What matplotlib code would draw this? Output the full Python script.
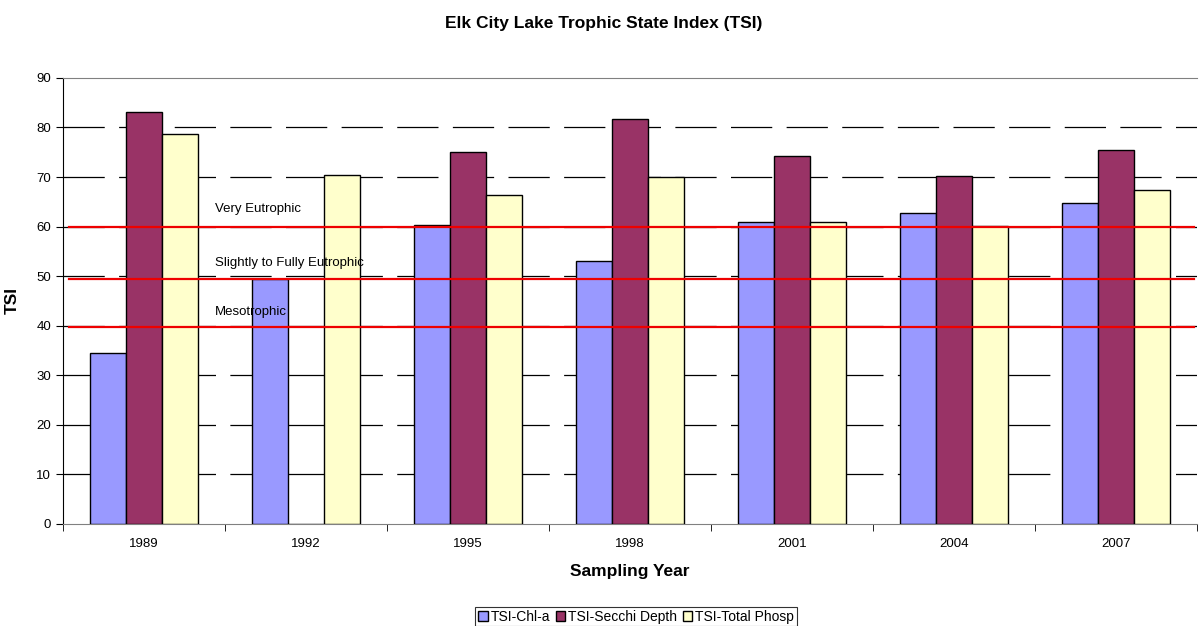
import numpy as np
from matplotlib import pyplot as plt
from matplotlib.patches import Patch

years = ['1989', '1992', '1995', '1998', '2001', '2004', '2007']
chl_a = [34.4, 49.4, 60.3, 53.1, 61.0, 62.8, 64.8]
secchi = [83.1, 0, 75.0, 81.8, 74.3, 70.2, 75.5]
total_p = [78.6, 70.5, 66.3, 70.0, 60.9, 60.2, 67.3]

thresholds = [59.9, 49.5, 39.7]
zone_labels = ['Very Eutrophic', 'Slightly to Fully Eutrophic', 'Mesotrophic']
label_y = [63.5, 52.6, 42.8]

colors = ['#9999FF', '#993366', '#FFFFCC']
names = ['TSI-Chl-a', 'TSI-Secchi Depth', 'TSI-Total Phosp']

plt.rcParams['font.family'] = ['Liberation Sans', 'DejaVu Sans']

fig = plt.figure(figsize=(12.01, 6.26), dpi=100)
ax = fig.add_axes([0.0525, 0.163, 0.9442, 0.7125])

x = np.arange(len(years))
w = 1 / 4.5
for i, vals in enumerate([chl_a, secchi, total_p]):
    ax.bar(x + (i - 1) * w, vals, width=w, color=colors[i], edgecolor='black',
           linewidth=1, zorder=3)

# gridlines (long dashes, like excel)
for v in range(10, 90, 10):
    ax.axhline(v, color='black', lw=0.9, linestyle=(0, (33, 11.5)), zorder=1)

for t in thresholds:
    ax.axhline(t, xmin=0.005, xmax=0.997, color='#EE0000', lw=1.6, zorder=4)
for lab, ly in zip(zone_labels, label_y):
    ax.text(0.44, ly, lab, fontsize=9.5, ha='left', va='center', zorder=5)

ax.set_xlim(-0.5, len(years) - 0.5)
ax.set_ylim(0, 90)
ax.set_yticks(range(0, 100, 10))
ax.set_xticks(x)
ax.set_xticklabels(years)
ax.set_xticks(np.arange(-0.5, len(years), 1), minor=True)
ax.tick_params(axis='x', which='major', length=0, pad=10, labelsize=9.5)
ax.tick_params(axis='x', which='minor', length=5, direction='out')
ax.tick_params(axis='y', length=5, direction='out', labelsize=9.5)

for s in ['top', 'right', 'bottom']:
    ax.spines[s].set_color('#808080')
ax.spines['right'].set_visible(False)
ax.spines['left'].set_color('black')

ax.set_xlabel('Sampling Year', fontsize=12.5, fontweight='bold', labelpad=10)
ax.set_ylabel('TSI', fontsize=12.5, fontweight='bold', labelpad=12)
fig.text(0.503, 0.962, 'Elk City Lake Trophic State Index (TSI)', ha='center',
         va='center', fontsize=12.5, fontweight='bold')

handles = [Patch(facecolor=c, edgecolor='black', label=n) for c, n in zip(colors, names)]
leg = fig.legend(handles=handles, loc='lower center', bbox_to_anchor=(0.5296, -0.003),
                 ncol=3, fontsize=10, frameon=True, fancybox=False,
                 handlelength=0.7, handleheight=0.7, handletextpad=0.2,
                 columnspacing=0.4, borderpad=0.2, borderaxespad=0.1)
leg.get_frame().set_edgecolor('black')
leg.get_frame().set_linewidth(0.8)

plt.savefig('out.png', dpi=100)
